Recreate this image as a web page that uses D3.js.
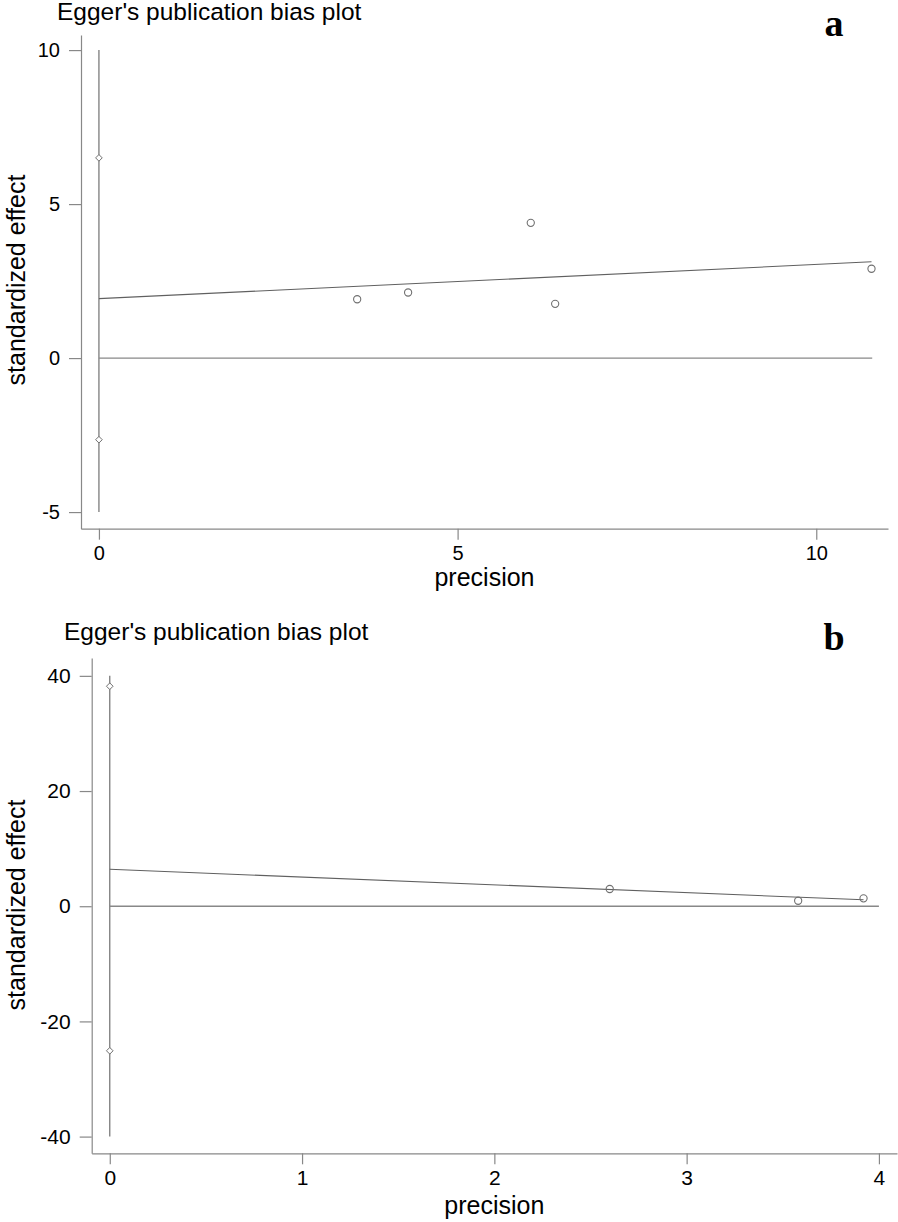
<!DOCTYPE html>
<html><head><meta charset="utf-8">
<script src="https://cdn.jsdelivr.net/npm/d3@7"></script>
<style>
body{margin:0;background:#fff;}
</style></head>
<body>
<svg id="chart" width="898" height="1222"></svg>
<script>
// ---- Panel a data ----
const aTitle = "Egger's publication bias plot";
const aPrecision = [3.60, 4.31, 6.02, 6.36, 10.77];
const aEffect = [1.91, 2.13, 4.39, 1.76, 2.90];
const aInterceptCI = [6.5, -2.65];      // diamonds at precision 0
const aCIRange = [-5, 10];               // vertical line at precision 0
const aLine = {intercept: 1.93, slope: 0.111};
const aZeroEnd = 10.78;
const aXTicks = [0, 5, 10];
const aYTicks = [-5, 0, 5, 10];

// ---- Panel b data ----
const bTitle = "Egger's publication bias plot";
const bPrecision = [2.60, 3.58, 3.92];
const bEffect = [2.99, 0.95, 1.37];
const bInterceptCI = [38.2, -25.1];
const bCIRange = [-40, 40];
const bLine = {intercept: 6.41, slope: -1.35};
const bZeroEnd = 4.0;
const bXTicks = [0, 1, 2, 3, 4];
const bYTicks = [-40, -20, 0, 20, 40];

const svg = d3.select("#chart");
const lineCol = "#707070";
const SANS = "'Liberation Sans', Arial, sans-serif";
const SERIF = "'Liberation Serif', 'Times New Roman', serif";

function panel(cfg){
  const g = svg.append("g");
  const x = d3.scaleLinear().domain(cfg.xDomain).range(cfg.xRange);
  const y = d3.scaleLinear().domain(cfg.yDomain).range(cfg.yRange);
  const fmt = d => String(d);

  // axes
  const ya = g.append("g").attr("transform",`translate(${cfg.xRange[0]},0)`)
    .call(d3.axisLeft(y).tickValues(cfg.yTicks).tickFormat(fmt).tickSize(12).tickPadding(9).tickSizeOuter(0));
  const xa = g.append("g").attr("transform",`translate(0,${cfg.yRange[0]})`)
    .call(d3.axisBottom(x).tickValues(cfg.xTicks).tickFormat(fmt).tickSize(11).tickPadding(6).tickSizeOuter(0));
  [ya, xa].forEach(a=>{
    a.select(".domain").attr("stroke","#888").attr("stroke-width",1.2);
    a.selectAll(".tick line").attr("stroke","#888").attr("stroke-width",1.2);
    a.selectAll(".tick text").style("font-size",cfg.tickSize+"px").style("font-family",SANS).attr("fill","#000");
  });

  // vertical CI line at precision 0
  g.append("line").attr("x1",x(0)).attr("x2",x(0))
    .attr("y1",y(cfg.ciRange[0])).attr("y2",y(cfg.ciRange[1]))
    .attr("stroke",lineCol).attr("stroke-width",1.2);

  // zero line
  g.append("line").attr("x1",x(0)).attr("x2",x(cfg.zeroEnd))
    .attr("y1",y(0)).attr("y2",y(0)).attr("stroke","#888").attr("stroke-width",1.3);

  // regression line
  const xmax = d3.max(cfg.prec);
  g.append("line").attr("x1",x(0)).attr("x2",x(xmax))
    .attr("y1",y(cfg.line.intercept)).attr("y2",y(cfg.line.intercept+cfg.line.slope*xmax))
    .attr("stroke","#606060").attr("stroke-width",1.1);

  // diamonds
  g.selectAll(".dia").data(cfg.ci).join("path")
    .attr("d", d3.symbol().type(d3.symbolDiamond2).size(28))
    .attr("transform", d=>`translate(${x(0)},${y(d)})`)
    .attr("fill","#fff").attr("stroke",lineCol).attr("stroke-width",1);

  // circles
  g.selectAll(".pt").data(cfg.prec.map((p,i)=>[p,cfg.eff[i]])).join("circle")
    .attr("cx",d=>x(d[0])).attr("cy",d=>y(d[1])).attr("r",3.6)
    .attr("fill","none").attr("stroke",lineCol).attr("stroke-width",1.1);

  // title
  g.append("text").attr("x",cfg.titleX).attr("y",cfg.titleY)
    .style("font-family",SANS).style("font-size","24.5px").attr("fill","#000").text(cfg.title);
  // axis titles
  g.append("text").attr("x",(cfg.xRange[0]+cfg.xRange[1])/2).attr("y",cfg.xLabelY)
    .attr("text-anchor","middle").style("font-family",SANS).style("font-size","25px").text("precision");
  g.append("text").attr("transform",`translate(25,${cfg.yLabelY}) rotate(-90)`)
    .attr("text-anchor","middle").style("font-family",SANS).style("font-size","25px").text("standardized effect");
  // panel letter
  g.append("text").attr("x",834).attr("y",cfg.letterY).attr("text-anchor","middle")
    .style("font-family",SERIF).style("font-weight","bold")
    .style("font-size","38px").text(cfg.letter);
}

panel({xDomain:[-0.25,11.0], xRange:[81,888], yDomain:[-5.54,10.49], yRange:[528.7,35],
  xTicks:aXTicks, yTicks:aYTicks, prec:aPrecision, eff:aEffect, ci:aInterceptCI, ciRange:aCIRange,
  line:aLine, zeroEnd:aZeroEnd, title:aTitle, titleX:57, titleY:19.5, tickSize:20,
  xLabelY:586, yLabelY:280, letter:"a", letterY:36});

panel({xDomain:[-0.094,4.094], xRange:[91.7,897], yDomain:[-42.9,43.1], yRange:[1153.3,658],
  xTicks:bXTicks, yTicks:bYTicks, prec:bPrecision, eff:bEffect, ci:bInterceptCI, ciRange:bCIRange,
  line:bLine, zeroEnd:bZeroEnd, title:bTitle, titleX:64, titleY:640, tickSize:21,
  xLabelY:1214, yLabelY:905, letter:"b", letterY:650});
</script>
</body></html>
